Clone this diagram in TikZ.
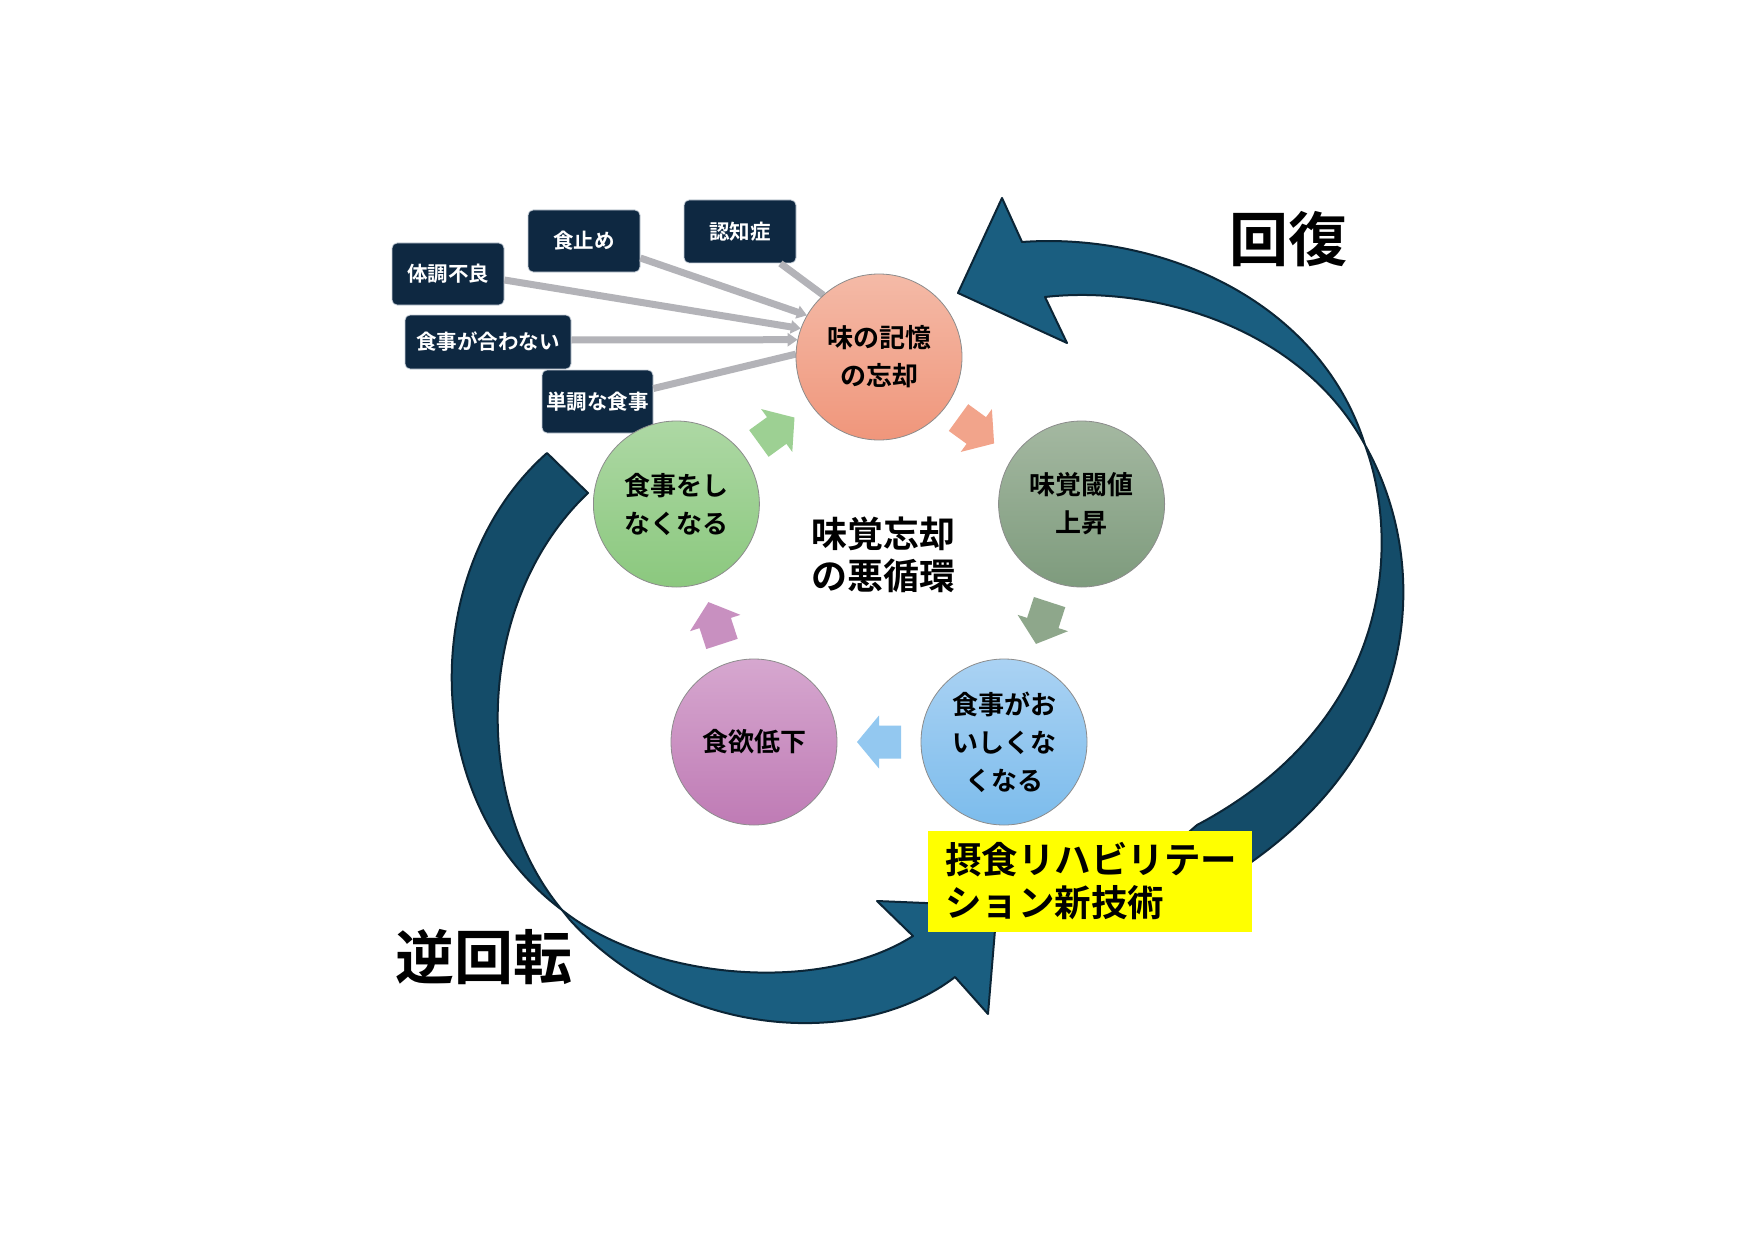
\documentclass[tikz,border=0pt]{standalone}
\usepackage{fontspec}
\setmainfont{Noto Sans CJK JP}[BoldFont={Noto Sans CJK JP Bold}]
\usetikzlibrary{arrows.meta,calc}
\definecolor{navy}{HTML}{0E2841}
\definecolor{boxline}{HTML}{C9D1DA}
\definecolor{connc}{HTML}{B3B3B8}
\definecolor{arrlight}{HTML}{1A5E80}
\definecolor{arrdark}{HTML}{144C69}
\definecolor{arrline}{HTML}{0B2536}
\definecolor{circline}{HTML}{8C8C8C}
\definecolor{c1t}{HTML}{F4BAA7}\definecolor{c1b}{HTML}{F0967B}
\definecolor{c2t}{HTML}{A4B8A1}\definecolor{c2b}{HTML}{7E9B7D}
\definecolor{c3t}{HTML}{AAD2F3}\definecolor{c3b}{HTML}{7CBCEC}
\definecolor{c4t}{HTML}{D6A7CF}\definecolor{c4b}{HTML}{BF7BB5}
\definecolor{c5t}{HTML}{ADD8A4}\definecolor{c5b}{HTML}{8BC87E}
\definecolor{a1}{HTML}{F2A48B}
\definecolor{a2}{HTML}{8EA78B}
\definecolor{a3}{HTML}{93C8F0}
\definecolor{a4}{HTML}{C890C0}
\definecolor{a5}{HTML}{9DD093}
\definecolor{hl}{HTML}{FFFF00}
\newcommand{\cycarrow}[3]{\fill[#3, shift={(#1)}, rotate=#2] (22,0) -- (0,26.5) -- (0,16.5) -- (-22,16.5) -- (-22,-16.5) -- (0,-16.5) -- (0,-26.5) -- cycle;}
\begin{document}
\begin{tikzpicture}[x=1pt,y=-1pt,
  bigA/.style={fill=arrlight, draw=arrline, line width=2pt, line join=round},
  bigB/.style={fill=arrdark, draw=arrline, line width=2pt, line join=round},
  cause/.style={rectangle, rounded corners=5pt, fill=navy, draw=boxline, line width=0.8pt, text=white, inner sep=0pt, font=\fontsize{20.5}{24}\selectfont\bfseries},
  conn/.style={draw=connc, line width=7pt},
  connarrow/.style={conn, -{Triangle[length=10pt,width=13pt]}},
  cyc/.style={circle, minimum size=166pt, inner sep=0pt, draw=circline, line width=0.8pt, align=center, font=\fontsize{26}{38}\selectfont\bfseries},
  biglabel/.style={font=\fontsize{59}{64}\selectfont\bfseries, inner sep=0pt}
]
\useasboundingbox (0,0) rectangle (1755,1241);
\fill[white] (0,0) rectangle (1755,1241);

% ---- big curved arrow: recovery (right side) ----
\filldraw[bigB] (1365,445) .. controls (1430,560) and (1425,740) .. (1250,863) -- (1238,874)
  -- (1182,838) -- (1197,825) .. controls (1395,720) and (1400,540) .. (1365,445) -- cycle;
\filldraw[bigA] (1365,445) .. controls (1320,300) and (1160,232) .. (1022,242)
  -- (1002,198) -- (958,293) -- (1067,343) -- (1045,297)
  .. controls (1150,285) and (1300,325) .. (1365,445) -- cycle;

% ---- big curved arrow: reverse rotation (left side) ----
\filldraw[bigB] (547,453) .. controls (420,565) and (415,800) .. (562,910)
  .. controls (470,800) and (475,600) .. (588,493) -- cycle;
\filldraw[bigA] (562,910) .. controls (650,980) and (820,995) .. (913,936)
  -- (877,901) -- (997,906) -- (988,1014) -- (955,977)
  .. controls (860,1050) and (680,1040) .. (570,920) -- cycle;

% ---- cause boxes ----
\node[cause, minimum width=112pt, minimum height=63pt] (b1) at (740,231.5) {認知症};
\node[cause, minimum width=112pt, minimum height=62pt] (b2) at (584,241) {食止め};
\node[cause, minimum width=112pt, minimum height=62pt] (b3) at (448,274) {体調不良};
\node[cause, minimum width=166pt, minimum height=54pt] (b4) at (488,342) {食事が合わない};
\node[cause, minimum width=111pt, minimum height=63pt] (b5) at (597.5,401.5) {単調な食事};

% ---- cycle circle positions ----
\path (879,357) coordinate (P1) (1081.6,504) coordinate (P2) (1004,742) coordinate (P3) (754,742) coordinate (P4) (676.4,504) coordinate (P5);

% connectors (drawn before circles)
\path (P1) node[circle, minimum size=166pt, inner sep=0pt] (C1g) {};
\draw[conn] ($(b1.south east)+(-16,0)$) -- (C1g.132);
\draw[connarrow] ($(b2.east)+(0,17)$) -- (C1g.150);
\draw[connarrow] ($(b3.east)+(0,6)$) -- (C1g.160);
\draw[connarrow] ($(b4.east)+(0,-2)$) -- (C1g.168);
\draw[conn] ($(b5.east)+(0,-13)$) -- (C1g.178);

\node[cyc, top color=c1t, bottom color=c1b] (C1) at (P1) {味の記憶\\の忘却};
\node[cyc, top color=c2t, bottom color=c2b] (C2) at (P2) {味覚閾値\\上昇};
\node[cyc, top color=c3t, bottom color=c3b] (C3) at (P3) {食事がお\\いしくな\\くなる};
\node[cyc, top color=c4t, bottom color=c4b] (C4) at (P4) {食欲低下};
\node[cyc, top color=c5t, bottom color=c5b] (C5) at (P5) {食事をし\\なくなる};

% ---- small cycle arrows ----
\coordinate (m12) at ($(C1)!0.5!(C2)+(-4,0)$);
\coordinate (m23) at ($(C2)!0.5!(C3)$);
\coordinate (m34) at ($(C3)!0.5!(C4)$);
\coordinate (m45) at ($(C4)!0.5!(C5)$);
\coordinate (m51) at ($(C5)!0.5!(C1)+(-1,0)$);
\cycarrow{m12}{-36}{a1}
\cycarrow{m23}{-108}{a2}
\cycarrow{m34}{180}{a3}
\cycarrow{m45}{108}{a4}
\cycarrow{m51}{36}{a5}

% ---- centre title ----
\node[align=center, inner sep=0pt, font=\fontsize{36}{42}\selectfont\bfseries] (title) at (883,555) {味覚忘却\\の悪循環};

% ---- highlighted box ----
\node[fill=hl, minimum width=324pt, minimum height=101pt, inner sep=0pt, text width=290pt, align=left, font=\fontsize{36.5}{43}\selectfont\bfseries] (tech) at (1090,881.5) {摂食リハビリテー\\ション新技術};

% ---- big labels ----
\node[biglabel] (rec) at (1288,239) {回復};
\node[biglabel] (rev) at (484,957) {逆回転};
\end{tikzpicture}
\end{document}
